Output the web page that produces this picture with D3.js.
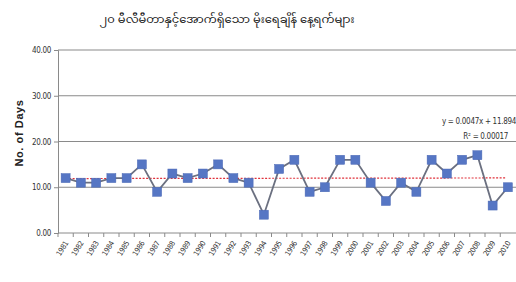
<!DOCTYPE html>
<html><head><meta charset="utf-8">
<script src="https://cdn.jsdelivr.net/npm/d3@7"></script>
<style>body{margin:0;background:#fff;}</style>
</head><body>
<script>
const years = ["1981","1982","1983","1984","1985","1986","1987","1988","1989","1990","1991","1992","1993","1994","1995","1996","1997","1998","1999","2000","2001","2002","2003","2004","2005","2006","2007","2008","2009","2010"];
const days = [12,11,11,12,12,15,9,13,12,13,15,12,11,4,14,16,9,10,16,16,11,7,11,9,16,13,16,17,6,10];
const yTicks = [0,10,20,30,40];
const trendSlope = 0.0047, trendIntercept = 11.894;
const titleText = "၂၀ မီလီမီတာနှင့်အောက်ရှိသော မိုးရေချိန် နေ့ရက်များ";
const yTitle = "No. of Days";
const eqText = "y = 0.0047x + 11.894";
const r2Text = "R² = 0.00017";

(function(){
const W = 516, H = 282;
const svg = d3.select("body").append("svg").attr("width", W).attr("height", H);
const mLeft = 58, mRight = 516, mTop = 50, mBottom = 233;
const x = d3.scaleBand().domain(years).range([mLeft, mLeft + 15.25 * 30]).padding(0);
const y = d3.scaleLinear().domain([0, 40]).range([mBottom, mTop]);
const narrow = "'Liberation Sans Narrow','Arial Narrow','DejaVu Sans Condensed',sans-serif";

svg.append("text").attr("x", 227).attr("y", 23).attr("text-anchor", "middle")
  .attr("font-size", 11.5).attr("fill", "#222").attr("font-family", "'Noto Sans Myanmar','Padauk','Myanmar Text',sans-serif")
  .text(titleText);

// gridlines
svg.append("g").selectAll("line").data(yTicks.filter(d => d > 0)).join("line")
  .attr("x1", mLeft).attr("x2", mRight).attr("y1", d => y(d)).attr("y2", d => y(d))
  .attr("stroke", "#8a8a8a").attr("stroke-width", 1.2);

// y axis
const yAxis = d3.axisLeft(y).tickValues(yTicks).tickFormat(d3.format(".2f")).tickSize(4);
const gy = svg.append("g").attr("transform", `translate(${mLeft},0)`).call(yAxis);
gy.select(".domain").attr("stroke", "#8a8a8a");
gy.selectAll(".tick line").attr("stroke", "#8a8a8a");
gy.selectAll("text").attr("font-family", narrow).attr("font-size", 8).attr("fill", "#333")
  .attr("letter-spacing", -0.3);

// x axis
const xAxis = d3.axisBottom(x).tickSize(4).tickSizeOuter(0);
const gx = svg.append("g").attr("transform", `translate(0,${mBottom})`).call(xAxis);
gx.select(".domain").attr("stroke", "#8a8a8a").attr("d", `M${mLeft},0H${mRight}`);
gx.selectAll(".tick line").attr("stroke", "#8a8a8a").attr("transform", `translate(${-x.bandwidth()/2},0)`);
gx.selectAll("text").attr("font-family", narrow).attr("font-size", 7.5).attr("fill", "#333")
  .attr("letter-spacing", -0.3)
  .attr("text-anchor", "end").attr("dy", 0).attr("y", 0)
  .attr("transform", "translate(3,10) rotate(-58)");

svg.append("text").attr("transform", `translate(23,133) rotate(-90)`)
  .attr("text-anchor", "middle").attr("font-family", "'Liberation Sans',Arial,sans-serif")
  .attr("font-weight", "bold").attr("font-size", 11).attr("letter-spacing", 0.6).attr("fill", "#222")
  .text(yTitle);

// trendline
const cx = d => x(d) + x.bandwidth()/2;
const tx0 = 1, tx1 = 30;
svg.append("line").attr("x1", cx(years[0])).attr("x2", cx(years[29]) - 2)
  .attr("y1", y(trendIntercept + trendSlope * tx0)).attr("y2", y(trendIntercept + trendSlope * tx1))
  .attr("stroke", "#e0303a").attr("stroke-width", 1.2).attr("stroke-dasharray", "2,1.5");

// series line
const line = d3.line().x((d, i) => cx(years[i])).y(d => y(d));
svg.append("path").datum(days).attr("d", line).attr("fill", "none")
  .attr("stroke", "#6b7080").attr("stroke-width", 1.8);

svg.append("g").selectAll("rect").data(days).join("rect")
  .attr("x", (d, i) => cx(years[i]) - 4.5).attr("y", d => y(d) - 4.5)
  .attr("width", 9).attr("height", 9).attr("fill", "#5676c4").attr("stroke", "#4a68b5").attr("stroke-width", 0.5);

svg.append("text").attr("x", 516).attr("y", 124).attr("text-anchor", "end")
  .attr("font-family", narrow).attr("font-size", 8).attr("letter-spacing", -0.3).attr("fill", "#333").text(eqText);
svg.append("text").attr("x", 508).attr("y", 139).attr("text-anchor", "end")
  .attr("font-family", narrow).attr("font-size", 8).attr("letter-spacing", -0.3).attr("fill", "#333").text(r2Text);
})();
</script>
</body></html>
